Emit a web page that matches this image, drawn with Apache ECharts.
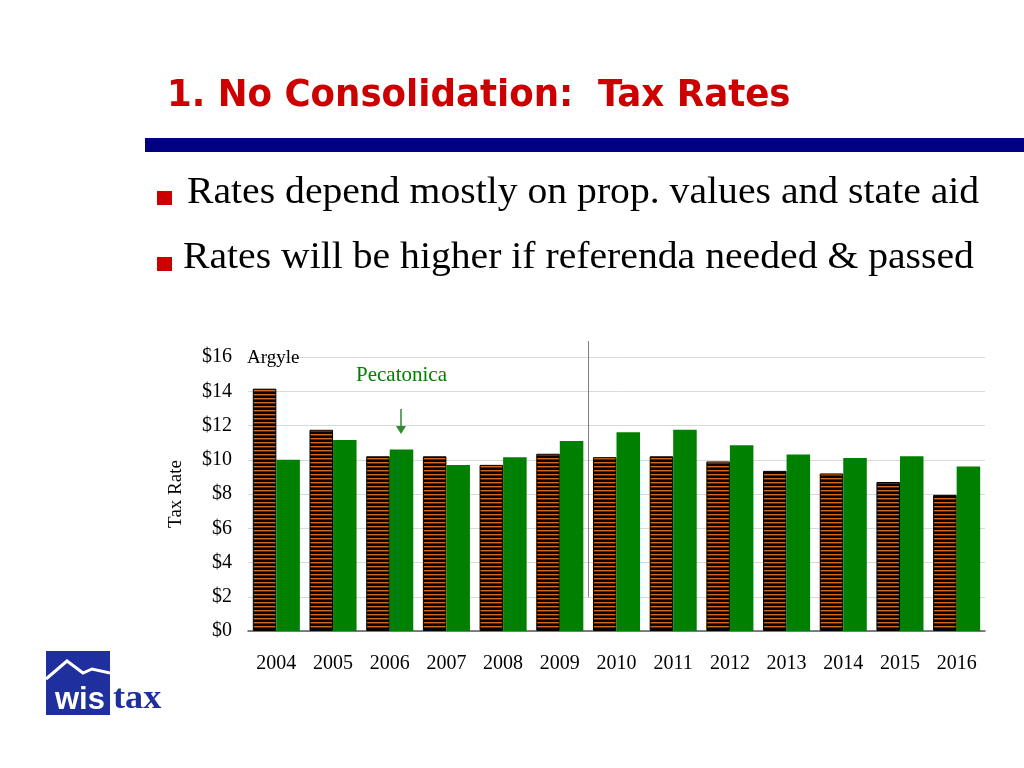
<!DOCTYPE html>
<html>
<head>
<meta charset="utf-8">
<script src="https://cdn.jsdelivr.net/npm/echarts@6/dist/echarts.min.js"></script>
<style>
html,body{margin:0;padding:0;background:#fff;}
#chart{width:1024px;height:768px;}
</style>
</head>
<body>
<div id="chart"></div>
<script>
const years = ['2004','2005','2006','2007','2008','2009','2010','2011','2012','2013','2014','2015','2016'];
const argyle = [14.15, 11.75, 10.2, 10.2, 9.7, 10.35, 10.15, 10.2, 9.9, 9.35, 9.2, 8.7, 7.95];
const pecatonica = [10.0, 11.15, 10.6, 9.7, 10.15, 11.1, 11.6, 11.75, 10.85, 10.3, 10.1, 10.2, 9.6];
const yTicks = [0, 2, 4, 6, 8, 10, 12, 14, 16];

// striped pattern for Argyle bars
const pc = document.createElement('canvas');
pc.width = 4; pc.height = 4;
const g = pc.getContext('2d');
g.fillStyle = '#0a0402'; g.fillRect(0, 0, 4, 4);
g.fillStyle = '#d2691e'; g.fillRect(0, 2, 4, 1);
g.fillStyle = '#5a2a12'; g.fillRect(0, 3, 4, 1);

const chart = echarts.init(document.getElementById('chart'));
const serif = '"Liberation Serif","Times New Roman",serif';

const option = {
  animation: false,
  grid: { left: 248, right: 39, top: 357, bottom: 137 },
  xAxis: {
    type: 'category',
    data: years,
    axisTick: { show: false },
    axisLine: { lineStyle: { color: '#595959', width: 1.5 } },
    axisLabel: { color: '#000', fontFamily: serif, fontSize: 20, margin: 23 }
  },
  yAxis: {
    type: 'value',
    min: yTicks[0], max: yTicks[yTicks.length - 1], interval: 2,
    name: 'Tax Rate', nameLocation: 'middle', nameRotate: 90, nameGap: 62,
    nameTextStyle: { color: '#000', fontFamily: serif, fontSize: 19 },
    axisLine: { show: false }, axisTick: { show: false },
    axisLabel: { color: '#000', fontFamily: serif, fontSize: 20, margin: 16, formatter: v => '$' + v },
    splitLine: { lineStyle: { color: '#d9d9d9' } }
  },
  series: [
    {
      name: 'Argyle', type: 'bar', data: argyle,
      barGap: '0%', barCategoryGap: '17%',
      itemStyle: { color: { image: pc, repeat: 'repeat' }, borderColor: '#000', borderWidth: 1 }
    },
    {
      name: 'Pecatonica', type: 'bar', data: pecatonica,
      itemStyle: { color: '#008000' }
    }
  ]
};
chart.setOption(option);

// separator between 2009 and 2010
const x09 = chart.convertToPixel({ xAxisIndex: 0 }, '2009');
const x10 = chart.convertToPixel({ xAxisIndex: 0 }, '2010');
const sepX = Math.round((x09 + x10) / 2) + 0.5;

chart.setOption({
  graphic: [
    // title
    { type: 'text', left: 167, top: 77, scaleX: 1.042, style: { text: '1. No Consolidation:  Tax Rates', fill: '#cc0000', font: 'bold 38px "DejaVu Sans Condensed","DejaVu Sans",sans-serif' } },
    { type: 'rect', shape: { x: 145, y: 138, width: 879, height: 14 }, style: { fill: '#000080' } },
    // bullets
    { type: 'rect', shape: { x: 157, y: 191, width: 15, height: 14 }, style: { fill: '#cc0000' } },
    { type: 'text', left: 187, top: 174, scaleX: 1.044, style: { text: 'Rates depend mostly on prop. values and state aid', fill: '#000', font: '38px ' + serif } },
    { type: 'rect', shape: { x: 157, y: 257, width: 15, height: 14 }, style: { fill: '#cc0000' } },
    { type: 'text', left: 183, top: 239, scaleX: 1.044, style: { text: 'Rates will be higher if referenda needed & passed', fill: '#000', font: '38px ' + serif } },
    // separator
    { type: 'line', shape: { x1: sepX, y1: 341, x2: sepX, y2: 597 }, style: { stroke: '#7f7f7f', lineWidth: 1 } },
    // annotations
    { type: 'text', left: 247, top: 349, style: { text: 'Argyle', fill: '#000', font: '19px ' + serif } },
    { type: 'text', left: 356, top: 365, style: { text: 'Pecatonica', fill: '#008000', font: '21px ' + serif } },
    { type: 'line', shape: { x1: 401, y1: 409, x2: 401, y2: 428 }, style: { stroke: '#2e8b2e', lineWidth: 1.5 } },
    { type: 'polygon', shape: { points: [[396, 426], [406, 426], [401, 434]] }, style: { fill: '#2e8b2e' } },
    // logo
    { type: 'rect', shape: { x: 46, y: 651, width: 64, height: 64 }, style: { fill: '#1f2f9e' } },
    { type: 'polyline', shape: { points: [[46, 679], [67, 661], [83, 673], [92, 669], [110, 673]] }, style: { stroke: '#fff', lineWidth: 3, fill: null } },
    { type: 'text', left: 55, top: 685, style: { text: 'wis', fill: '#fff', font: 'bold 31px "Liberation Sans",Arial,sans-serif' } },
    { type: 'text', left: 113, top: 683, scaleX: 1.1, style: { text: 'tax', fill: '#1f2f9e', font: 'bold 33px ' + serif } }
  ]
});
</script>
</body>
</html>
